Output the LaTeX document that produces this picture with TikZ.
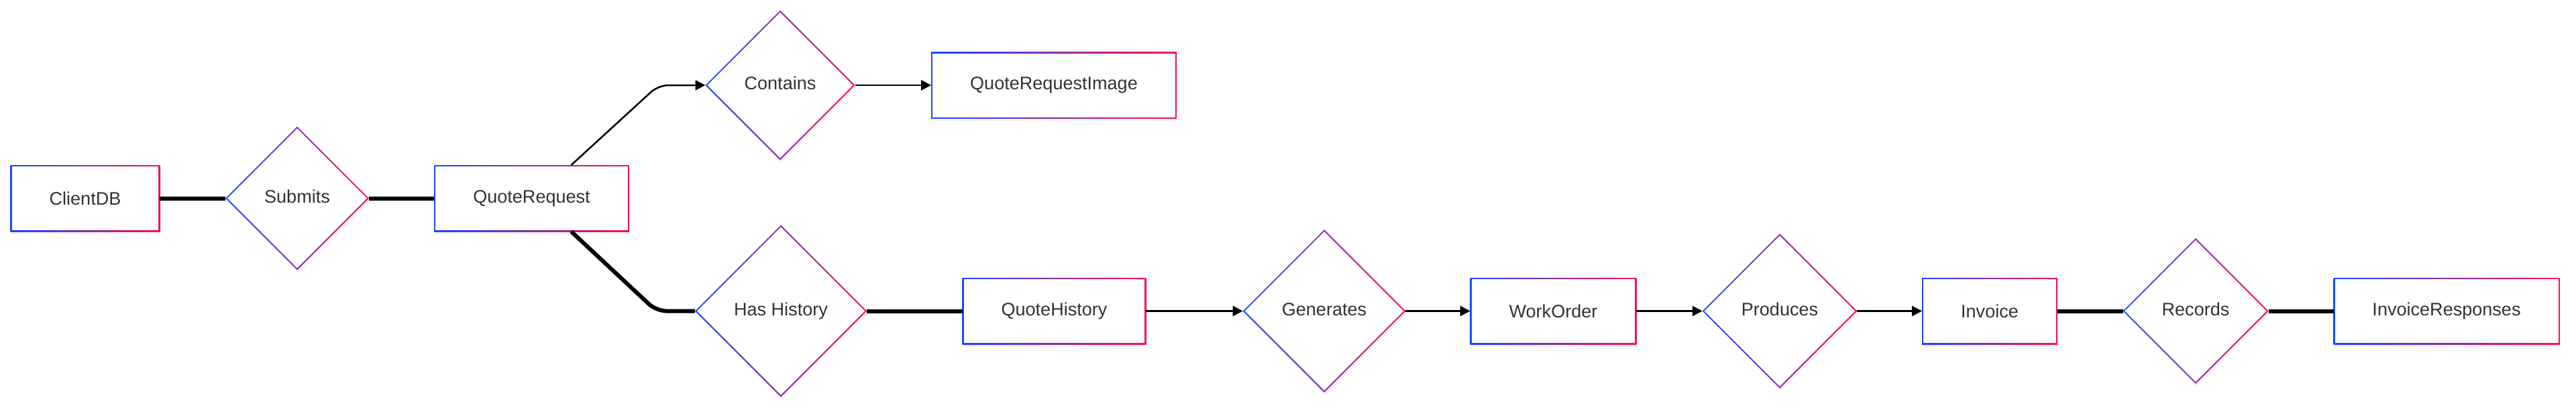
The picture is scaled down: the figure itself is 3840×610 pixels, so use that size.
\documentclass[tikz,border=0pt]{standalone}
\usepackage{fontspec}
\setmainfont{Liberation Sans}
\usetikzlibrary{shapes.geometric, arrows.meta, shadows}
\definecolor{gblue}{RGB}{24,72,255}
\definecolor{gred}{RGB}{250,16,80}
\definecolor{txt}{RGB}{51,51,51}

\begin{document}
\begin{tikzpicture}[x=0.02cm, y=-0.02cm]

\tikzset{entity/.style = {rectangle, outer sep=0pt, inner xsep=1.16cm, minimum height=1.98cm,
  text=txt, font=\fontsize{15.4}{18}\selectfont, left color=gblue, right color=gred,
  drop shadow={opacity=0.12, shadow xshift=0.03cm, shadow yshift=-0.07cm},
  path picture={\fill[white] ([shift={(0.04cm,0.04cm)}]path picture bounding box.south west)
    rectangle ([shift={(-0.04cm,-0.04cm)}]path picture bounding box.north east);}}}
\tikzset{relation/.style = {diamond, aspect=1, outer sep=0pt, inner sep=0.445cm,
  text height=0.41cm, text depth=0.135cm,
  text=txt, font=\fontsize{15.4}{18}\selectfont, left color=gblue, right color=gred,
  drop shadow={opacity=0.12, shadow xshift=0.03cm, shadow yshift=-0.07cm},
  path picture={\fill[white] ([xshift=0.057cm]path picture bounding box.west)
    -- ([yshift=-0.057cm]path picture bounding box.north)
    -- ([xshift=-0.057cm]path picture bounding box.east)
    -- ([yshift=0.057cm]path picture bounding box.south) -- cycle;}}}
\tikzset{edge/.style = {-{Triangle[length=0.3cm, width=0.3cm]}, line width=0.05cm}}
\tikzset{link/.style = {line width=0.12cm}}

\useasboundingbox (0,0) rectangle (3840,610);

%entities
\node[entity] (client) at (127,295.5) {ClientDB};
\node[entity] (qreq) at (792.5,295.5) {QuoteRequest};
\node[entity] (qimg) at (1571,127) {QuoteRequestImage};
\node[entity] (qhist) at (1571.5,463.5) {QuoteHistory};
\node[entity] (wo) at (2315.5,463.5) {WorkOrder};
\node[entity] (inv) at (2966,463.5) {Invoice};
\node[entity] (invr) at (3647,463.5) {InvoiceResponses};
%relations
\node[relation] (sub) at (443,295.5) {Submits};
\node[relation] (con) at (1163,127) {Contains};
\node[relation] (hist) at (1164,463.5) {Has History};
\node[relation] (gen) at (1974,463.5) {Generates};
\node[relation] (prod) at (2653,463.5) {Produces};
\node[relation] (rec) at (3273,463.5) {Records};
%edges
\draw [link] (client) -- (sub);
\draw [link] (sub) -- (qreq);
\draw [edge, rounded corners=0.3cm] (qreq.40) -- ([xshift=-1.4cm]con.west) -- (con.west);
\draw [link, rounded corners=0.3cm] (qreq.-40) -- ([xshift=-1.15cm]hist.west) -- (hist.west);
\draw [edge] (con) -- (qimg);
\draw [link] (hist) -- (qhist);
\draw [edge] (qhist) -- (gen);
\draw [edge] (gen) -- (wo);
\draw [edge] (wo) -- (prod);
\draw [edge] (prod) -- (inv);
\draw [link] (inv) -- (rec);
\draw [link] (rec) -- (invr);

\end{tikzpicture}
\end{document}
